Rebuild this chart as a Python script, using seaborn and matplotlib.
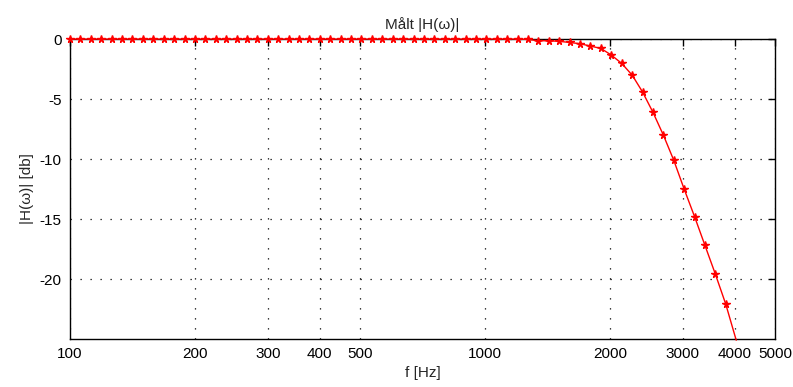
import numpy as np
import pandas as pd
import matplotlib
matplotlib.use("Agg")
import matplotlib.pyplot as plt
import seaborn as sns

# measured frequencies (Hz)
freq = [100.0, 105.9, 112.2, 118.9, 126.0, 133.5, 141.4, 149.8, 158.7, 168.2,
        178.2, 188.8, 200.0, 211.9, 224.5, 237.8, 252.0, 267.0, 282.8, 299.7,
        317.5, 336.4, 356.4, 377.6, 400.0, 423.8, 449.0, 475.7, 504.0, 534.0,
        565.7, 599.3, 635.0, 672.7, 712.7, 755.1, 800.0, 847.6, 898.0, 951.4,
        1008, 1068, 1131, 1199, 1270, 1345, 1425, 1510, 1600, 1695,
        1796, 1903, 2016, 2136, 2263, 2397, 2540, 2691, 2851, 3020,
        3200, 3390, 3592, 3805, 4032]

# measured |H(w)| in dB
h_db = [0.0, 0.0, 0.0, 0.0, 0.0, 0.0, 0.0, 0.0, 0.0, 0.0,
        0.0, 0.0, 0.0, 0.0, 0.0, 0.0, 0.0, 0.0, 0.0, 0.0,
        0.0, 0.0, 0.0, 0.0, 0.0, 0.0, 0.0, 0.0, 0.0, 0.0,
        0.0, 0.0, 0.0, 0.0, 0.0, 0.0, 0.0, 0.0, 0.0, 0.0,
        0.0, 0.0, 0.0, 0.0, -0.03, -0.14, -0.14, -0.19, -0.28, -0.39,
        -0.58, -0.78, -1.33, -2.03, -3.0, -4.4, -6.1, -8.0, -10.1, -12.5,
        -14.8, -17.2, -19.6, -22.1, -25.1]

xticks = [100, 200, 300, 400, 500, 1000, 2000, 3000, 4000, 5000]
yticks = [0, -5, -10, -15, -20]

df = pd.DataFrame({"f": freq, "H": h_db})

sns.set_style("white")
plt.rcParams['font.family'] = ['Liberation Sans', 'DejaVu Sans']

fig = plt.figure(figsize=(7.93, 3.87), dpi=100)
ax = fig.add_axes([0.0883, 0.124, 0.889, 0.775])

sns.lineplot(data=df, x="f", y="H", ax=ax, color="red", linewidth=1,
             marker="*", markersize=5.5, markeredgewidth=1, markeredgecolor="red")

# markers sit on top of the box like in matlab, the point below -25 gets no marker
line = ax.get_lines()[0]
line.set_clip_on(False)
line.set_zorder(5)
line.set_markevery([i for i, v in enumerate(h_db) if v >= -25])

ax.set_xscale("log")
ax.set_xlim(100, 5000)
ax.set_ylim(-25, 0)
ax.set_xticks(xticks)
ax.set_xticklabels([str(t) for t in xticks])
ax.minorticks_off()
ax.set_yticks(yticks)
ax.set_yticklabels([str(t) for t in yticks])

ax.grid(True, color="black", linestyle=(0, (1, 7)), linewidth=0.9)
for s in ax.spines.values():
    s.set_color("black")
    s.set_linewidth(1)
ax.tick_params(direction="in", length=5, width=1, top=True, right=True,
               labelsize=11, pad=6, colors="black")

ax.set_title("Målt |H(ω)|", fontsize=11, pad=7)
ax.set_xlabel("f [Hz]", fontsize=11, labelpad=3)
ax.set_ylabel("|H(ω)| [db]", fontsize=11, labelpad=4)

fig.savefig("out.png", dpi=100)
